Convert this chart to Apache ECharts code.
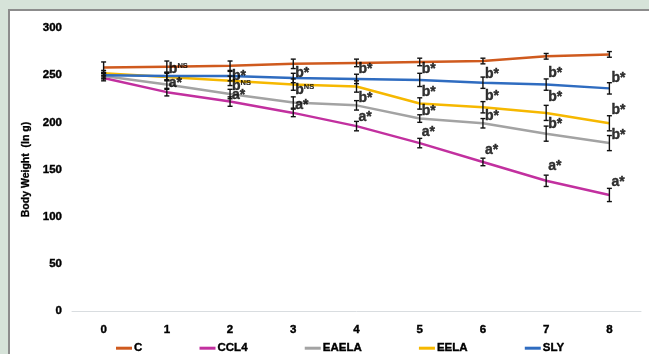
<!DOCTYPE html>
<html>
<head>
<meta charset="utf-8">
<script src="https://cdn.jsdelivr.net/npm/echarts@6/dist/echarts.min.js"></script>
<style>
html,body{margin:0;padding:0;background:#d6e3d9;}
#chart{width:649px;height:354px;}
</style>
</head>
<body>
<div id="chart"></div>
<script>
// ---- data ----
const weeks = ['0','1','2','3','4','5','6','7','8'];
const seriesNames = ['C','CCL4','EAELA','EELA','SLY'];
const valC     = [258, 259, 260, 262, 263, 264, 265, 270, 272];
const valCCL4  = [247, 232, 222, 210, 196, 178, 158, 138, 123];
const valEAELA = [249, 240, 230, 221, 218, 204, 199, 188, 178];
const valEELA  = [252, 248, 244, 240, 238, 220, 216, 210, 199];
const valSLY   = [250, 249, 249, 247, 246, 245, 242, 240, 236];
const errC     = [6, 6, 5, 5, 4, 4, 3, 3, 3];
const errCCL4  = [3, 4, 5, 4, 5, 5, 4, 6, 7];
const errEAELA = [3, 5, 5, 6, 5, 4, 5, 8, 8];
const errEELA  = [3, 4, 5, 6, 6, 6, 6, 8, 8];
const errSLY   = [3, 4, 5, 5, 5, 7, 6, 6, 6];
// significance annotations: week index, value level, text
const annoWeek = [1,1, 2,2,2, 3,3,3, 4,4,4, 5,5,5,5, 6,6,6,6, 7,7,7,7, 8,8,8,8];
const annoVal  = [256,242, 249,238,229, 252.5,234,218, 256,226,206, 256,232,212,190, 251,228,207,171, 252,227,198,154, 247,213,186,137];
const annoText = ['bNS','a*', 'b*','bNS','a*', 'b*','bNS','a*', 'b*','b*','a*', 'b*','b*','b*','a*', 'b*','b*','b*','a*', 'b*','b*','b*','a*', 'b*','b*','b*','a*'];
const yTicks = {min: 0, max: 300, interval: 50};

const colors = ['#cf5a1e', '#c2309f', '#a3a3a3', '#f6b800', '#2f6cc0'];
const values = [valC, valCCL4, valEAELA, valEELA, valSLY];
const errs = [errC, errCCL4, errEAELA, errEELA, errSLY];

const FONT = '"Liberation Sans", Arial, sans-serif';
const heavy = {fontFamily: FONT, fontWeight: 'bold', color: '#000', textBorderColor: '#000', textBorderWidth: 0.4};

const series = [];
seriesNames.forEach((name, k) => {
  series.push({
    name: name, type: 'line', data: values[k], symbol: 'none',
    lineStyle: {color: colors[k], width: 2.5}, itemStyle: {color: colors[k]},
    z: 3
  });
});
seriesNames.forEach((name, k) => {
  series.push({
    type: 'custom', name: name + '_err', z: 4,
    data: values[k].map((v, i) => [i, v, errs[k][i]]),
    renderItem: function (params, api) {
      const i = api.value(0), v = api.value(1), e = api.value(2);
      const top = api.coord([i, v + e]);
      const bot = api.coord([i, v - e]);
      const cw = 2.5;
      const st = {stroke: '#111', lineWidth: 1.4};
      return {type: 'group', children: [
        {type: 'line', shape: {x1: top[0], y1: top[1], x2: bot[0], y2: bot[1]}, style: st},
        {type: 'line', shape: {x1: top[0]-cw, y1: top[1], x2: top[0]+cw, y2: top[1]}, style: st},
        {type: 'line', shape: {x1: bot[0]-cw, y1: bot[1], x2: bot[0]+cw, y2: bot[1]}, style: st}
      ]};
    }
  });
});
series.push({
  type: 'scatter', name: 'anno', symbolSize: 0, z: 5, silent: true,
  data: annoWeek.map((w, j) => ({value: [w, annoVal[j]], t: annoText[j]})),
  label: {
    show: true, position: 'right', distance: 2,
    formatter: function (p) {
      const t = p.data.t;
      if (t.endsWith('NS')) return '{b|' + t.slice(0, -2) + '}{s|NS}';
      return '{b|' + t + '}';
    },
    rich: {
      b: Object.assign({}, heavy, {fontSize: 14}),
      s: Object.assign({}, heavy, {fontSize: 7.5, textBorderWidth: 0.2, padding: [0, 0, 7, 0]})
    }
  }
});

const chart = echarts.init(document.getElementById('chart'));
chart.setOption({
  animation: false,
  backgroundColor: '#d6e3d9',
  graphic: [{
    type: 'rect', z: -100, left: 8, top: 9,
    shape: {width: 700, height: 400},
    style: {fill: '#ffffff', stroke: '#8c8c8c', lineWidth: 2}
  }],
  grid: {left: 72, right: 8, top: 28, bottom: 43},
  legend: {
    data: seriesNames, left: 111, top: 337, itemGap: 57,
    icon: 'rect', itemWidth: 16, itemHeight: 3,
    textStyle: Object.assign({}, heavy, {fontSize: 11.5, padding: [0,0,0,-3]})
  },
  xAxis: {
    type: 'category', data: weeks, boundaryGap: true,
    axisLine: {lineStyle: {color: '#d9dde0', width: 1}},
    axisTick: {lineStyle: {color: '#d0d4d6'}, length: 3, inside: true},
    axisLabel: Object.assign({}, heavy, {fontSize: 11.5, margin: 13})
  },
  yAxis: {
    type: 'value', min: yTicks.min, max: yTicks.max, interval: yTicks.interval,
    name: 'Body Weight  (In g)', nameLocation: 'middle', nameGap: 40,
    nameTextStyle: Object.assign({}, heavy, {fontSize: 10.5, textBorderWidth: 0.3}),
    axisLine: {show: false}, axisTick: {show: false}, splitLine: {show: false},
    axisLabel: Object.assign({}, heavy, {fontSize: 11.5, margin: 10})
  },
  series: series
});
</script>
</body>
</html>
